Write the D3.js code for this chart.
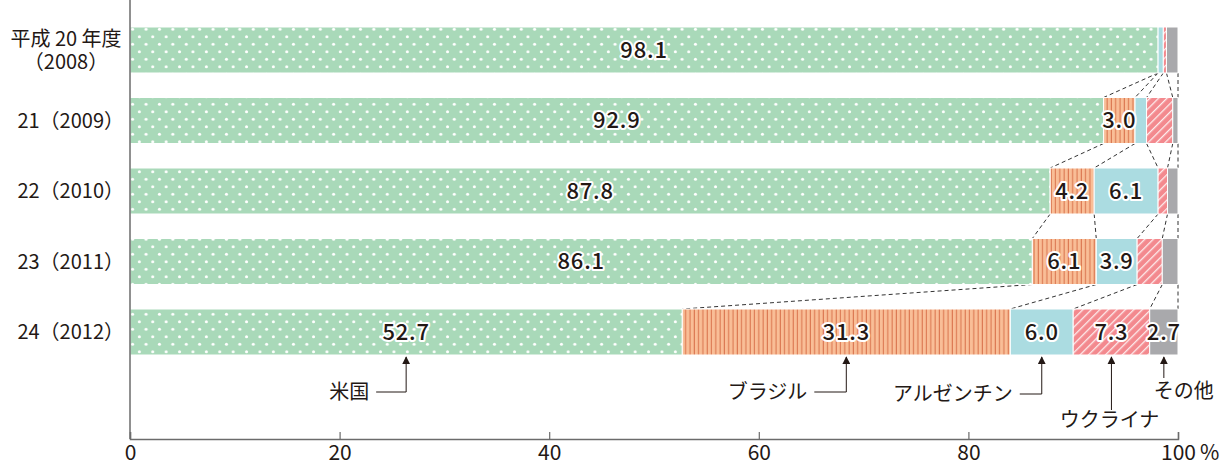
<!DOCTYPE html>
<html>
<head>
<meta charset="utf-8">
<script src="https://cdn.jsdelivr.net/npm/d3@7/dist/d3.min.js"></script>
<style>
  html, body { margin: 0; padding: 0; background: #fff; }
  svg { display: block; font-family: "Noto Sans CJK JP", "Noto Sans", sans-serif; }
</style>
</head>
<body>
<svg id="chart" width="1228" height="465"></svg>
<script>
// Import shares by supplying country (%), fiscal years 2008-2012
const years = ["2008", "2009", "2010", "2011", "2012"];
const yearLabels = [["平成 20 年度", "（2008）"], ["21（2009）"], ["22（2010）"], ["23（2011）"], ["24（2012）"]];
const countries = ["米国", "ブラジル", "アルゼンチン", "ウクライナ", "その他"];
const usa       = [98.1, 92.9, 87.8, 86.1, 52.7];
const brazil    = [0.0, 3.0, 4.2, 6.1, 31.3];
const argentina = [0.5, 1.1, 6.1, 3.9, 6.0];
const ukraine   = [0.3, 2.5, 0.9, 2.4, 7.3];
const others    = [1.1, 0.5, 1.0, 1.5, 2.7];
const xTicks = [0, 20, 40, 60, 80, 100];
const labelMin = 2.7;

const series = [usa, brazil, argentina, ukraine, others];
const fills = ["url(#p-dots)", "url(#p-vlines)", "#abdce1", "url(#p-diag)", "#a9a9ac"];

const svg = d3.select("#chart");
const ink = "#231815";

// patterns
const defs = svg.append("defs");
const dots = defs.append("pattern").attr("id", "p-dots").attr("patternUnits", "userSpaceOnUse")
  .attr("width", 13.4).attr("height", 15).attr("x", 2).attr("y", 3);
dots.append("rect").attr("width", 13.4).attr("height", 15).attr("fill", "#a9d9b9");
dots.append("circle").attr("cx", 3.35).attr("cy", 3.75).attr("r", 1.5).attr("fill", "#fff");
dots.append("circle").attr("cx", 10.05).attr("cy", 11.25).attr("r", 1.5).attr("fill", "#fff");

const vl = defs.append("pattern").attr("id", "p-vlines").attr("patternUnits", "userSpaceOnUse")
  .attr("width", 4.3).attr("height", 10);
vl.append("rect").attr("width", 4.3).attr("height", 10).attr("fill", "#f9be97");
vl.append("rect").attr("x", 1.5).attr("width", 1).attr("height", 10).attr("fill", "#d8704a");

const dg = defs.append("pattern").attr("id", "p-diag").attr("patternUnits", "userSpaceOnUse")
  .attr("width", 6).attr("height", 6).attr("patternTransform", "rotate(45)");
dg.append("rect").attr("width", 6).attr("height", 6).attr("fill", "#f3898e");
dg.append("rect").attr("x", 0).attr("width", 1.3).attr("height", 6).attr("fill", "#fff").attr("opacity", 0.85);

const arrowDef = defs.append("marker").attr("id", "arrow").attr("viewBox", "0 0 10 10")
  .attr("refX", 9).attr("refY", 5).attr("markerWidth", 8).attr("markerHeight", 8)
  .attr("markerUnits", "userSpaceOnUse").attr("orient", "auto");
arrowDef.append("path").attr("d", "M0,0 L10,5 L0,10 Z").attr("fill", ink);

// scales
const x = d3.scaleLinear().domain([0, 100]).range([130, 1178]);
const y = d3.scaleBand().domain(years).range([14.75, 367.25]).paddingInner(0.3475).paddingOuter(0.17375);

// stacked layout
const rows = years.map((yr, i) => {
  let c = 0;
  return series.map((s, k) => {
    const seg = { year: yr, k, v: s[i], x0: c, x1: c + s[i] };
    c += s[i];
    return seg;
  });
});

// dashed connectors between consecutive bars at each segment boundary
const conn = svg.append("g").attr("stroke", "#333").attr("stroke-width", 1).attr("stroke-dasharray", "4,3").attr("fill", "none");
for (let i = 0; i < years.length - 1; i++) {
  for (let k = 0; k < series.length; k++) {
    const a = k === series.length - 1 ? 100 : rows[i][k].x1;
    const b = k === series.length - 1 ? 100 : rows[i + 1][k].x1;
    conn.append("line")
      .attr("x1", x(Math.min(a, 100))).attr("y1", y(years[i]) + y.bandwidth())
      .attr("x2", x(Math.min(b, 100))).attr("y2", y(years[i + 1]));
  }
}

// bars
const barG = svg.append("g");
rows.forEach(row => {
  barG.selectAll(null).data(row.filter(d => d.v > 0)).enter().append("rect")
    .attr("x", d => x(d.x0)).attr("y", d => y(d.year))
    .attr("width", d => x(d.x1) - x(d.x0)).attr("height", y.bandwidth())
    .attr("fill", d => fills[d.k]).attr("stroke", "#fff").attr("stroke-width", 1);
});

// value labels with white halo
const valG = svg.append("g").attr("font-size", 22).attr("font-weight", 500).attr("text-anchor", "middle")
  .attr("fill", ink).attr("letter-spacing", 0.8);
rows.forEach(row => {
  valG.selectAll(null).data(row.filter(d => d.v >= labelMin)).enter().append("text")
    .attr("x", d => x((d.x0 + d.x1) / 2)).attr("y", d => y(d.year) + y.bandwidth() / 2)
    .attr("dy", "0.36em")
    .attr("stroke", "#fff").attr("stroke-width", 4).attr("stroke-linejoin", "round")
    .attr("paint-order", "stroke")
    .text(d => d.v.toFixed(1));
});

// y labels (a two-line label is centred as one block)
const yl = svg.append("g").attr("font-size", 20).attr("fill", ink);
years.forEach((yr, i) => {
  const lines = yearLabels[i];
  const cy = y(yr) + y.bandwidth() / 2;
  if (lines.length === 1) {
    yl.append("text").attr("x", 124).attr("y", cy).attr("dy", "0.36em")
      .attr("text-anchor", "end").text(lines[0]);
  } else {
    const t = yl.append("text").attr("text-anchor", "middle");
    lines.forEach((s, j) => {
      t.append("tspan").attr("x", 66)
        .attr("y", cy + (j - (lines.length - 1) / 2) * 23)
        .attr("dy", "0.36em").text(s);
    });
  }
});

// x axis
const axisY = 439;
const ax = svg.append("g").attr("transform", `translate(0,${axisY})`)
  .call(d3.axisBottom(x).tickValues(xTicks).tickSize(-7).tickPadding(6).tickFormat(d => d));
ax.select(".domain").attr("stroke", "#6b6b6b").attr("stroke-width", 1.5);
ax.selectAll(".tick line").attr("stroke", "#6b6b6b").attr("stroke-width", 1.2);
ax.selectAll(".tick text").attr("font-size", 21).attr("fill", ink)
  .attr("font-family", "'Noto Sans CJK JP', 'Noto Sans', sans-serif").attr("dy", "0.7em");
svg.append("text").attr("x", x(100) + 22).attr("y", axisY + 6).attr("dy", "0.7em")
  .attr("font-size", 21).attr("fill", ink).text("%");

// y axis line
svg.append("line").attr("x1", x(0)).attr("x2", x(0)).attr("y1", 0).attr("y2", axisY)
  .attr("stroke", "#6b6b6b").attr("stroke-width", 1.5);

// callouts under the last bar
const last = rows[rows.length - 1];
const barBottom = y(years[years.length - 1]) + y.bandwidth();
const calloutSpec = [
  { type: "left", yEnd: 392, gap: 30 },
  { type: "left", yEnd: 392, gap: 32 },
  { type: "left", yEnd: 394, gap: 22 },
  { type: "down", yEnd: 410 },
  { type: "down", yEnd: 378 }
];
const co = svg.append("g").attr("font-size", 20).attr("fill", ink);
last.forEach((d, k) => {
  const cx = x((d.x0 + d.x1) / 2);
  const spec = calloutSpec[k];
  let path;
  if (spec.type === "left") {
    path = `M${cx - spec.gap},${spec.yEnd} H${cx} V${barBottom + 2}`;
    co.append("text").attr("x", cx - spec.gap - 7).attr("y", spec.yEnd).attr("dy", "0.36em")
      .attr("text-anchor", "end").text(countries[k]);
  } else {
    path = `M${cx},${spec.yEnd} V${barBottom + 2}`;
  }
  co.append("path").attr("d", path).attr("fill", "none").attr("stroke", ink).attr("stroke-width", 1)
    .attr("marker-end", "url(#arrow)");
});
// Ukraine and "other" labels sit below their arrows
co.append("text").attr("x", x((last[3].x0 + last[3].x1) / 2) - 2).attr("y", 420).attr("dy", "0.36em")
  .attr("text-anchor", "middle").text(countries[3]);
co.append("text").attr("x", x((last[4].x0 + last[4].x1) / 2) + 20).attr("y", 391).attr("dy", "0.36em")
  .attr("text-anchor", "middle").text(countries[4]);
</script>
</body>
</html>
